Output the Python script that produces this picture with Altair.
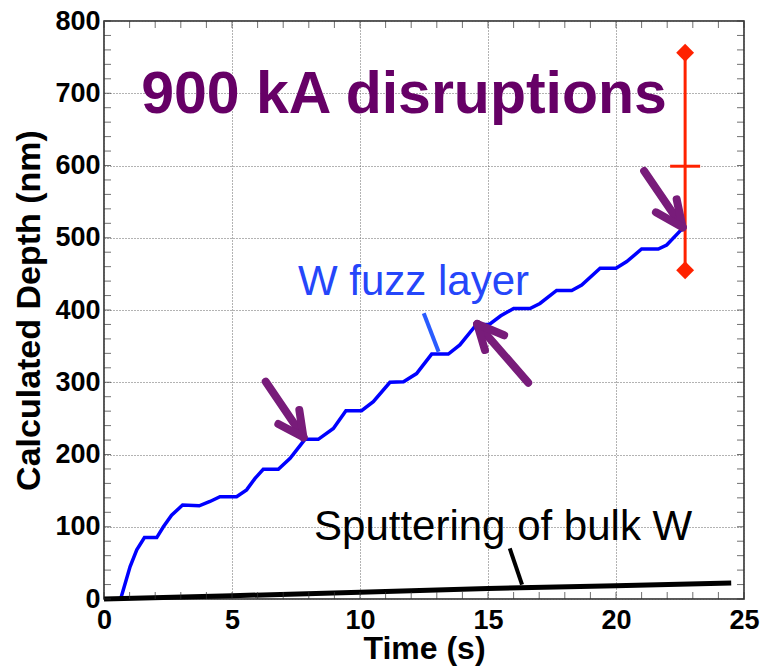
import altair as alt
import pandas as pd

# ---- data ----
fuzz_t = [0.65, 1.02, 1.28, 1.58, 2.06, 2.32, 2.64, 3.07, 3.72, 4.14, 4.53, 5.18, 5.57, 5.9,
          6.22, 6.81, 7.27, 7.85, 8.37, 8.96, 9.45, 10.06, 10.52, 11.17, 11.7, 12.21, 12.8,
          13.45, 13.9, 14.55, 15.05, 15.5, 16.0, 16.64, 17.03, 17.68, 18.27, 18.66, 19.38,
          20.0, 20.42, 21.0, 21.65, 21.98, 22.6]
fuzz_d = [0, 45, 68, 85, 85, 100, 116, 130, 129, 135, 141.6, 141.6, 151, 167,
          179.5, 179.5, 194.7, 221, 221, 236, 260.6, 260.6, 273, 300, 300.8, 312, 339,
          339, 351.6, 380, 380, 392, 402, 402, 409, 427, 427, 434.6, 457.7,
          457.7, 467, 484.4, 484.4, 490, 513]

sput_t = [0, 5, 10, 15, 20, 24.5]
sput_d = [0, 4.5, 9.5, 14.5, 18.5, 22]

err_t = [22.7]
err_low = [455]
err_mid = [599]
err_high = [756]

# arrow segments (tail -> tip, then two barbs from tip)
arrow_x = [6.32, 7.79, 7.79, 14.58, 14.58, 14.58, 21.1, 22.6, 22.6]
arrow_y = [300.8, 223.8, 223.8, 380.6, 380.6, 380.6, 592.4, 514.5, 514.5]
arrow_x2 = [7.79, 7.63, 6.81, 16.57, 14.88, 15.63, 22.6, 22.37, 21.56]
arrow_y2 = [223.8, 261.6, 242.2, 299.4, 344.6, 365.0, 514.5, 553.2, 535.2]

x_ticks = [0, 5, 10, 15, 20, 25]
y_ticks = [0, 100, 200, 300, 400, 500, 600, 700, 800]
x_minor = list(range(0, 26))
y_minor = list(range(0, 801, 20))

FONT = "Liberation Sans"
xs = alt.Scale(domain=[0, 25], nice=False, zero=False)
ys = alt.Scale(domain=[0, 800], nice=False, zero=False)
X_TITLE = "Time (s)"
Y_TITLE = "Calculated Depth (nm)"
ax_x = alt.Axis(values=x_ticks, grid=True, gridDash=[1, 2], gridColor="#666",
                gridWidth=1, tickSize=0, domain=False, labelPadding=8,
                labelFontSize=27, labelFont=FONT, labelFontWeight="bold",
                labelColor="black", titleFont=FONT, titleFontSize=32,
                titleFontWeight="bold", titleColor="black", titlePadding=0,
                labelFlush=False)
ax_y = alt.Axis(values=y_ticks, grid=True, gridDash=[1, 2], gridColor="#666",
                gridWidth=1, tickSize=0, domain=False, labelPadding=4,
                labelFontSize=27, labelFont=FONT, labelFontWeight="bold",
                labelColor="black", titleFont=FONT, titleFontSize=34,
                titleFontWeight="bold", titleColor="black", titlePadding=8,
                labelFlush=False)


def X(f):
    return alt.X(f, scale=xs, axis=ax_x, title=X_TITLE)


def Y(f):
    return alt.Y(f, scale=ys, axis=ax_y, title=Y_TITLE)


def XD(v):
    return alt.XDatum(v, scale=xs, axis=ax_x, title=X_TITLE, type="quantitative")


def YD(v):
    return alt.YDatum(v, scale=ys, axis=ax_y, title=Y_TITLE, type="quantitative")


fuzz = pd.DataFrame({"t": fuzz_t, "d": fuzz_d})
sput = pd.DataFrame({"t": sput_t, "d": sput_d})

base = alt.Chart(fuzz).mark_line(color="#0000ff", strokeWidth=3.5).encode(x=X("t:Q"), y=Y("d:Q"))
sputter = alt.Chart(sput).mark_line(color="black", strokeWidth=5).encode(x=X("t:Q"), y=Y("d:Q"))

# inward minor ticks on all four sides
xm = pd.DataFrame({"t": x_minor})
ym = pd.DataFrame({"d": y_minor})
tick_b = alt.Chart(xm).mark_tick(orient="vertical", size=7, thickness=1, color="#333", yOffset=-3.5).encode(
    x=X("t:Q"), y=YD(0))
tick_t = alt.Chart(xm).mark_tick(orient="vertical", size=7, thickness=1, color="#333", yOffset=3.5).encode(
    x=X("t:Q"), y=YD(800))
tick_l = alt.Chart(ym).mark_tick(orient="horizontal", size=7, thickness=1, color="#333", xOffset=3.5).encode(
    y=Y("d:Q"), x=XD(0))
tick_r = alt.Chart(ym).mark_tick(orient="horizontal", size=7, thickness=1, color="#333", xOffset=-3.5).encode(
    y=Y("d:Q"), x=XD(25))

err = pd.DataFrame({"t": err_t, "lo": err_low, "mid": err_mid, "hi": err_high})
err_rule = alt.Chart(err).mark_rule(color="#ff2200", strokeWidth=3).encode(
    x=X("t:Q"), y=Y("lo:Q"), y2="hi:Q")
err_tick = alt.Chart(err).mark_point(shape="M-1,0L1,0", filled=False, color="#ff2200", size=900,
                                     strokeWidth=3, opacity=1).encode(
    x=X("t:Q"), y=Y("mid:Q"))
err_pts = pd.DataFrame({"t": err_t * 2, "d": err_low + err_high})
err_dia = alt.Chart(err_pts).mark_point(shape="diamond", filled=True, color="#ff2200", size=320, opacity=1).encode(
    x=X("t:Q"), y=Y("d:Q"))

arr = pd.DataFrame({"x": arrow_x, "y": arrow_y, "x2": arrow_x2, "y2": arrow_y2})
arrows = alt.Chart(arr).mark_rule(color="#781c7a", strokeWidth=8, strokeCap="round").encode(
    x=X("x:Q"), y=Y("y:Q"), x2="x2:Q", y2="y2:Q")

ptr = pd.DataFrame({"x": [12.49, 15.85], "y": [395.4, 70.0], "x2": [13.07, 16.33], "y2": [342.3, 20.0],
                    "c": ["#2a5cff", "black"]})
pointers = alt.Chart(ptr).mark_rule(strokeWidth=4).encode(
    x=X("x:Q"), y=Y("y:Q"), x2="x2:Q", y2="y2:Q", color=alt.Color("c:N", scale=None))

title_txt = alt.Chart(pd.DataFrame({"t": [11.72], "d": [672.7], "s": ["900 kA disruptions"]})).mark_text(
    font=FONT, fontSize=59, fontWeight="bold", color="#660066", align="center", baseline="alphabetic").encode(
    x=X("t:Q"), y=Y("d:Q"), text="s:N")
fuzz_txt = alt.Chart(pd.DataFrame({"t": [12.09], "d": [420.8], "s": ["W fuzz layer"]})).mark_text(
    font=FONT, fontSize=42, color="#2546fa", align="center", baseline="alphabetic").encode(
    x=X("t:Q"), y=Y("d:Q"), text="s:N")
sput_txt = alt.Chart(pd.DataFrame({"t": [15.59], "d": [81.7], "s": ["Sputtering of bulk W"]})).mark_text(
    font=FONT, fontSize=42, color="black", align="center", baseline="alphabetic").encode(
    x=X("t:Q"), y=Y("d:Q"), text="s:N")

chart = alt.layer(
    base, sputter, tick_b, tick_t, tick_l, tick_r, err_rule, err_tick, err_dia,
    arrows, pointers, title_txt, fuzz_txt, sput_txt
).properties(
    width=640, height=578,
    autosize=alt.AutoSizeParams(type="none"),
    padding={"left": 104, "top": 21, "right": 17, "bottom": 69},
    background="white",
).configure_view(stroke="#222", strokeWidth=1.5)

chart.save("out.html", embed_options={"renderer": "svg", "actions": False})
